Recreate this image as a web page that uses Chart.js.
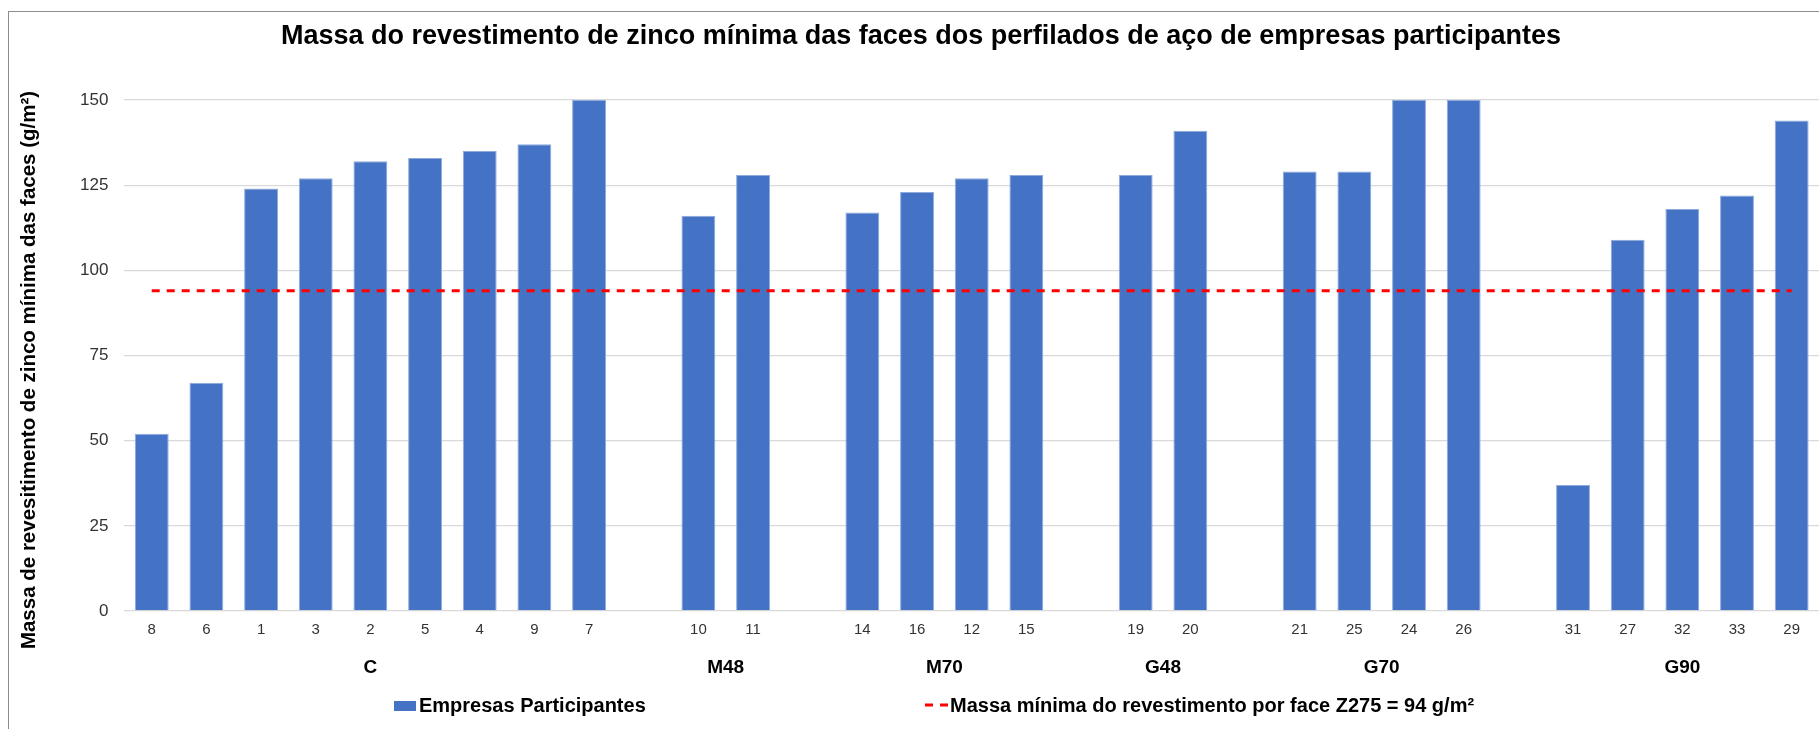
<!DOCTYPE html>
<html>
<head>
<meta charset="utf-8">
<title>Massa do revestimento de zinco</title>
<script src="https://cdn.jsdelivr.net/npm/chart.js@4.4.0/dist/chart.umd.min.js"></script>
<style>
    html, body { margin: 0; padding: 0; background: #fff; overflow: hidden; }
    #frame { position: absolute; left: 8px; top: 11px; width: 1900px; height: 800px;
             border-left: 1px solid #8c8c8c; border-top: 1px solid #8c8c8c; }
    #myChart { position: absolute; left: 0; top: 0; }
</style>
</head>
<body>
<div id="frame"></div>
<canvas id="myChart" width="1819" height="729"></canvas>
<script>
let groupNames = ["C", "M48", "M70", "G48", "G70", "G90"];
let companyIds = [
    ["8", "6", "1", "3", "2", "5", "4", "9", "7"],
    ["10", "11"],
    ["14", "16", "12", "15"],
    ["19", "20"],
    ["21", "25", "24", "26"],
    ["31", "27", "32", "33", "29"]
];
let zincMass = [
    [52, 67, 124, 127, 132, 133, 135, 137, 150],
    [116, 128],
    [117, 123, 127, 128],
    [128, 141],
    [129, 129, 150, 150],
    [37, 109, 118, 122, 144]
];
let minimumMass = 94;
let yTicks = [0, 25, 50, 75, 100, 125, 150];

let fontFamily = "'Liberation Sans', Arial, sans-serif";

// flatten groups, one empty slot between groups
let labels = [];
let barValues = [];
let groupSpans = [];
companyIds.forEach(function (ids, g) {
    if (g > 0) {
        labels.push("");
        barValues.push(null);
    }
    let first = labels.length;
    ids.forEach(function (id, i) {
        labels.push(id);
        barValues.push(zincMass[g][i]);
    });
    groupSpans.push([first, labels.length - 1]);
});
let lineValues = labels.map(function () { return minimumMass; });

let extraText = {
    id: "extraText",
    afterDraw: function (chart) {
        let ctx = chart.ctx;
        let xScale = chart.scales.x;
        ctx.save();
        ctx.fillStyle = "#000";

        // title
        ctx.textAlign = "center";
        ctx.textBaseline = "alphabetic";
        ctx.font = "bold 27px " + fontFamily;
        ctx.fillText("Massa do revestimento de zinco mínima das faces dos perfilados de aço de empresas participantes", 921, 44);

        // group labels under the company ids
        ctx.font = "bold 19px " + fontFamily;
        ctx.textBaseline = "middle";
        groupNames.forEach(function (name, g) {
            let px = (xScale.getPixelForValue(groupSpans[g][0]) + xScale.getPixelForValue(groupSpans[g][1])) / 2;
            ctx.fillText(name, px, 668);
        });

        // y axis title
        ctx.save();
        ctx.translate(29, 370);
        ctx.rotate(-Math.PI / 2);
        ctx.font = "bold 20.5px " + fontFamily;
        ctx.fillText("Massa de revesitimento de zinco mínima das faces (g/m²)", 0, 0);
        ctx.restore();

        // legend
        let ds = chart.data.datasets;
        ctx.textAlign = "left";
        ctx.textBaseline = "alphabetic";
        ctx.font = "bold 20px " + fontFamily;
        ctx.fillStyle = ds[1].backgroundColor;
        ctx.fillRect(394, 701, 22, 10);
        ctx.fillStyle = "#000";
        ctx.fillText(ds[1].label, 419, 712);

        ctx.strokeStyle = ds[0].borderColor;
        ctx.lineWidth = 3;
        ctx.setLineDash([8, 7]);
        ctx.beginPath();
        ctx.moveTo(925, 705);
        ctx.lineTo(948, 705);
        ctx.stroke();
        ctx.setLineDash([]);
        ctx.fillText(ds[0].label, 950, 712);
        ctx.restore();
    }
};

let myChart = document.querySelector("#myChart");
myChart.getContext("2d");
let massChart = new Chart(myChart, {
    type: "bar",
    data: {
        labels: labels,
        datasets: [{
            type: "line",
            label: "Massa mínima do revestimento por face Z275 = 94 g/m²",
            data: lineValues,
            borderColor: "#FF0000",
            borderWidth: 3,
            borderDash: [8, 7],
            pointRadius: 0,
            fill: false,
            order: 0
        },
        {
            label: "Empresas Participantes",
            data: barValues,
            backgroundColor: "#4472C4",
            borderColor: "#8FAADC",
            borderWidth: 1,
            categoryPercentage: 1,
            barPercentage: 0.62,
            order: 1
        }]
    },
    options: {
        responsive: false,
        animation: false,
        layout: { padding: { top: 100, right: 0, bottom: 0, left: 0 } },
        plugins: {
            legend: { display: false },
            title: { display: false },
            tooltip: { enabled: false }
        },
        scales: {
            x: {
                grid: { display: false, drawTicks: false },
                border: { display: false },
                ticks: {
                    autoSkip: false,
                    maxRotation: 0,
                    padding: 10,
                    color: "#333",
                    font: { family: fontFamily, size: 15 }
                },
                afterFit: function (scale) { scale.height = 118; }
            },
            y: {
                min: 0,
                max: 150,
                afterBuildTicks: function (scale) {
                    scale.ticks = yTicks.map(function (v) { return { value: v }; });
                },
                grid: { color: "#D9D9D9", lineWidth: 1.3, drawTicks: false },
                border: { display: false },
                ticks: {
                    padding: 16,
                    color: "#333",
                    font: { family: fontFamily, size: 17 }
                },
                afterFit: function (scale) { scale.width = 124.4; }
            }
        }
    },
    plugins: [extraText]
});
</script>
</body>
</html>
